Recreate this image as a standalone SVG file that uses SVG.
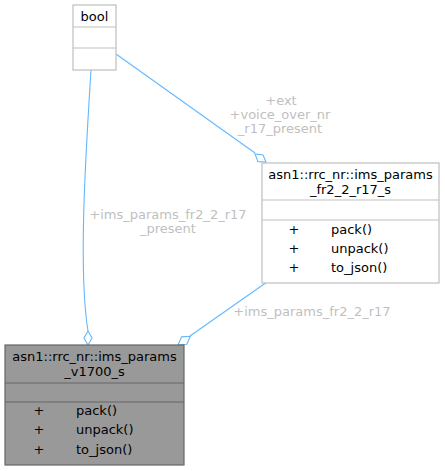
<svg xmlns="http://www.w3.org/2000/svg" width="445" height="471" viewBox="0 0 445 471">
<style>
text{font-family:"DejaVu Sans","Liberation Sans",sans-serif;font-size:13px;fill:#000}
.c{text-anchor:middle}
.lbl{fill:#bfbfbf;text-anchor:middle}
.edge{fill:none;stroke:#63b8ff;stroke-width:1.1}
.dia{fill:#fff;stroke:#63b8ff;stroke-width:1.1}
.box{fill:#fff;stroke:#bfbfbf;stroke-width:1.2}
.boxg{fill:#999999;stroke:#666666;stroke-width:1.2}
.sepw{stroke:#bfbfbf;stroke-width:1.2}
.sepg{stroke:#666666;stroke-width:1.2}
</style>
<g id="connectors">
<path class="edge" d="M91,70 C86,150 78,270 88,331"/>
<polygon class="dia" points="88,345 84,338 88,331 92,338"/>
<path class="edge" d="M116,54 L255,153"/>
<polygon class="dia" points="266,162 258,161.6 255,154 263,155"/>
<path class="edge" d="M267,282 L190,336"/>
<polygon class="dia" points="178,345 181.6,336.9 190.3,336.3 186.8,344.3"/>
<text class="lbl" x="168" y="219">+ims_params_fr2_2_r17</text>
<text class="lbl" x="168" y="233">_present</text>
<text class="lbl" x="281" y="105">+ext</text>
<text class="lbl" x="280" y="119">+voice_over_nr</text>
<text class="lbl" x="280" y="133">_r17_present</text>
<text class="lbl" x="312" y="316">+ims_params_fr2_2_r17</text>
</g>
<g id="bool">
<rect class="box" x="73" y="5" width="43" height="65"/>
<line class="sepw" x1="73" y1="27" x2="116" y2="27"/>
<line class="sepw" x1="73" y1="48" x2="116" y2="48"/>
<text class="c" x="94.5" y="21">bool</text>
</g>
<g id="ims_params_fr2_2_r17_s">
<rect class="box" x="262" y="163" width="177" height="120"/>
<line class="sepw" x1="262" y1="200" x2="439" y2="200"/>
<line class="sepw" x1="262" y1="220" x2="439" y2="220"/>
<text class="c" x="350.5" y="179">asn1::rrc_nr::ims_params</text>
<text class="c" x="350.5" y="194">_fr2_2_r17_s</text>
<text class="c" x="294" y="234">+</text>
<text x="331" y="234">pack()</text>
<text class="c" x="294" y="253">+</text>
<text x="331" y="253">unpack()</text>
<text class="c" x="294" y="272">+</text>
<text x="331" y="272">to_json()</text>
</g>
<g id="ims_params_v1700_s">
<rect class="boxg" x="5" y="345" width="179" height="120"/>
<line class="sepg" x1="5" y1="383" x2="184" y2="383"/>
<line class="sepg" x1="5" y1="402" x2="184" y2="402"/>
<text class="c" x="94.5" y="361">asn1::rrc_nr::ims_params</text>
<text class="c" x="94.5" y="376">_v1700_s</text>
<text class="c" x="39" y="415">+</text>
<text x="76" y="415">pack()</text>
<text class="c" x="39" y="434">+</text>
<text x="76" y="434">unpack()</text>
<text class="c" x="39" y="454">+</text>
<text x="76" y="454">to_json()</text>
</g>
</svg>
